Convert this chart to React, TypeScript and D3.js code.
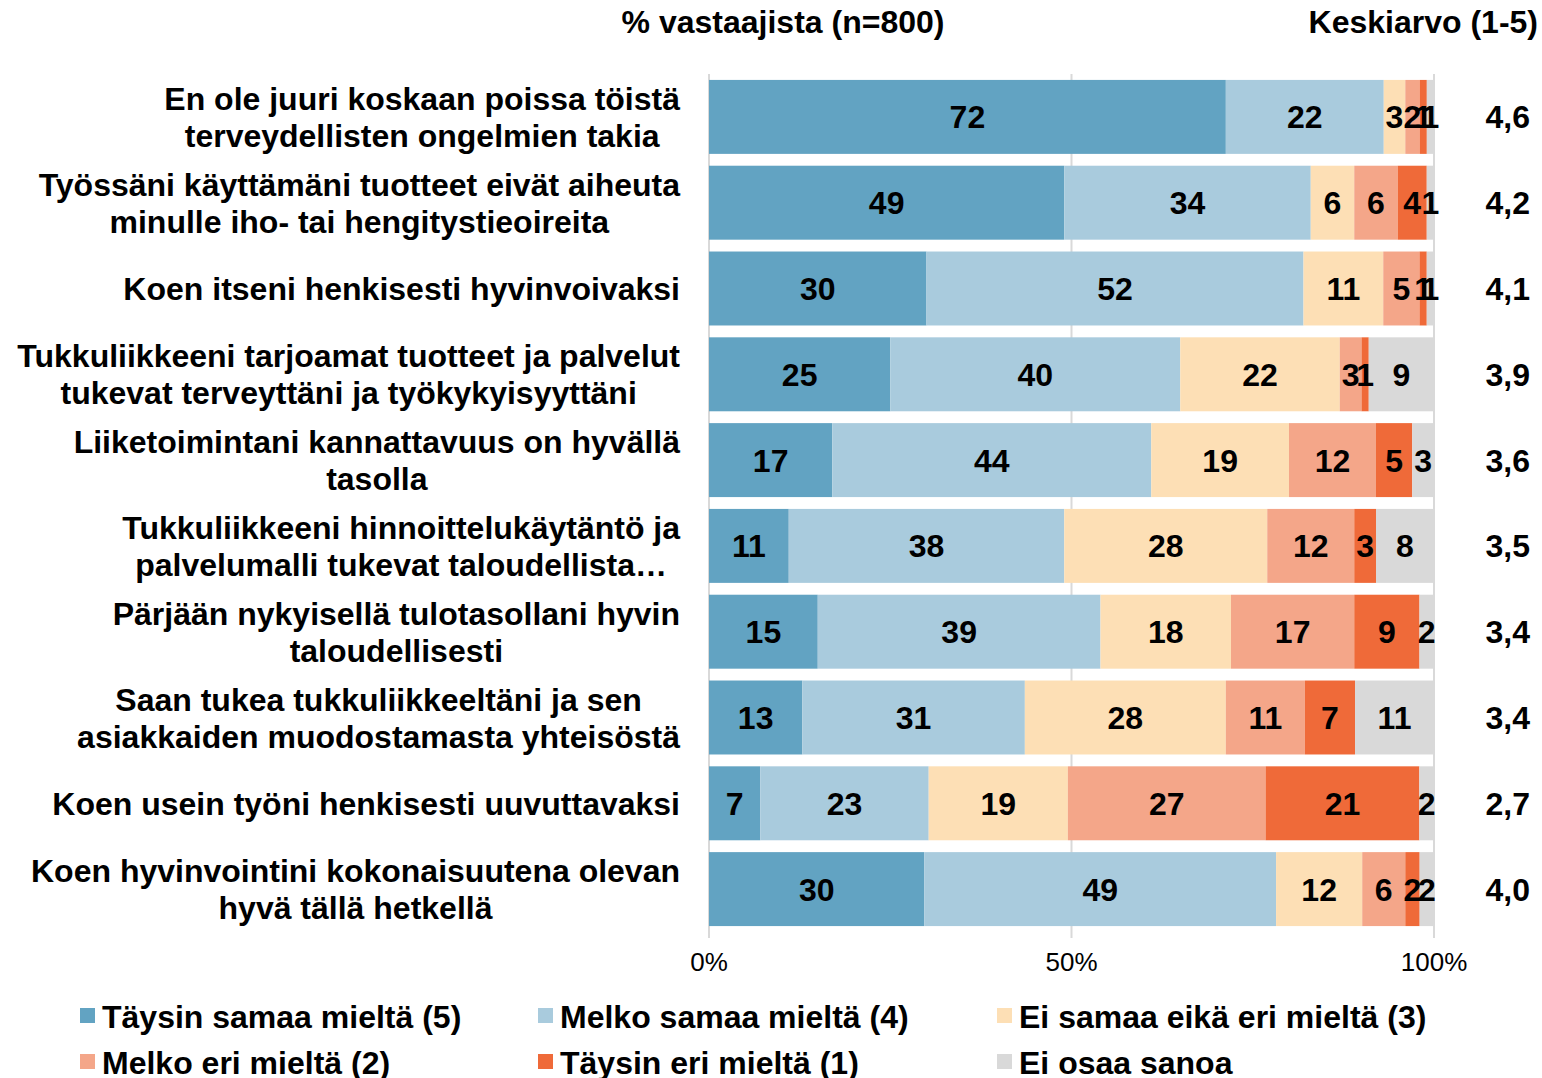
import React from 'react';
import * as d3 from 'd3';

const categories = [
  ['En ole juuri koskaan poissa töistä', 'terveydellisten ongelmien takia'],
  ['Työssäni käyttämäni tuotteet eivät aiheuta', 'minulle iho- tai hengitystieoireita'],
  ['Koen itseni henkisesti hyvinvoivaksi'],
  ['Tukkuliikkeeni tarjoamat tuotteet ja palvelut', 'tukevat terveyttäni ja työkykyisyyttäni'],
  ['Liiketoimintani kannattavuus on hyvällä', 'tasolla'],
  ['Tukkuliikkeeni hinnoittelukäytäntö ja', 'palvelumalli tukevat taloudellista…'],
  ['Pärjään nykyisellä tulotasollani hyvin', 'taloudellisesti'],
  ['Saan tukea tukkuliikkeeltäni ja sen', 'asiakkaiden muodostamasta yhteisöstä'],
  ['Koen usein työni henkisesti uuvuttavaksi'],
  ['Koen hyvinvointini kokonaisuutena olevan', 'hyvä tällä hetkellä'],
];

const seriesNames = [
  'Täysin samaa mieltä (5)',
  'Melko samaa mieltä (4)',
  'Ei samaa eikä eri mieltä (3)',
  'Melko eri mieltä (2)',
  'Täysin eri mieltä (1)',
  'Ei osaa sanoa',
];

const taysinSamaa = [72, 49, 30, 25, 17, 11, 15, 13, 7, 30];
const melkoSamaa = [22, 34, 52, 40, 44, 38, 39, 31, 23, 49];
const eiSamaaEikaEri = [3, 6, 11, 22, 19, 28, 18, 28, 19, 12];
const melkoEri = [2, 6, 5, 3, 12, 12, 17, 11, 27, 6];
const taysinEri = [1, 4, 1, 1, 5, 3, 9, 7, 21, 2];
const eiOsaa = [1, 1, 1, 9, 3, 8, 2, 11, 2, 2];

const means = ['4,6', '4,2', '4,1', '3,9', '3,6', '3,5', '3,4', '3,4', '2,7', '4,0'];
const xTicks = [0, 50, 100];

const colors = ['#62a3c2', '#a9cbdd', '#fddfb5', '#f4a689', '#ef6a39', '#d9d9d9'];

const allSeries = [taysinSamaa, melkoSamaa, eiSamaaEikaEri, melkoEri, taysinEri, eiOsaa];

const FONT = '"Liberation Sans", Arial, sans-serif';

// measure label width so multi-line labels can be centred inside a right-aligned block
let ctx: CanvasRenderingContext2D | null = null;
function textWidth(s: string, size: number) {
  if (!ctx) ctx = document.createElement('canvas').getContext('2d');
  if (!ctx) return s.length * size * 0.55;
  ctx.font = `bold ${size}px ${FONT}`;
  return ctx.measureText(s).width;
}

export default function App() {
  const x = d3.scaleLinear().domain([0, 100]).range([709, 1434]);
  const y = d3
    .scaleBand<number>()
    .domain(d3.range(categories.length))
    .range([74, 932])
    .paddingInner(0.138)
    .paddingOuter(0.069);

  const rows = categories.map((_, i) => {
    const vals = allSeries.map((s) => s[i]);
    const total = d3.sum(vals);
    let acc = 0;
    return vals.map((v, k) => {
      const x0 = (acc / total) * 100;
      acc += v;
      const x1 = (acc / total) * 100;
      return { k, v, x0, x1 };
    });
  });

  const labelRight = 680;

  return (
    <svg
      width={1542}
      height={1078}
      style={{ position: 'absolute', left: 0, top: 0, background: '#fff' }}
      fontFamily={FONT}
    >
      {/* headers */}
      <text x={783} y={33} textAnchor="middle" fontSize={32} fontWeight="bold">
        % vastaajista (n=800)
      </text>
      <text x={1538} y={33} textAnchor="end" fontSize={32} fontWeight="bold">
        Keskiarvo (1-5)
      </text>

      {/* grid */}
      {xTicks.map((t) => (
        <line key={t} x1={x(t)} x2={x(t)} y1={74} y2={938} stroke="#d9d9d9" strokeWidth={2} />
      ))}

      {/* bars */}
      {rows.map((segs, i) => (
        <g key={i}>
          {segs.map((s) => (
            <rect
              key={s.k}
              x={x(s.x0)}
              y={y(i)!}
              width={x(s.x1) - x(s.x0)}
              height={y.bandwidth()}
              fill={colors[s.k]}
            />
          ))}
          {segs.map((s) => (
            <text
              key={'t' + s.k}
              x={(x(s.x0) + x(s.x1)) / 2}
              y={y(i)! + y.bandwidth() / 2}
              dy="0.36em"
              textAnchor="middle"
              fontSize={32}
              fontWeight="bold"
            >
              {s.v}
            </text>
          ))}
        </g>
      ))}

      {/* category labels */}
      {categories.map((lines, i) => {
        const cy = y(i)! + y.bandwidth() / 2;
        const w = d3.max(lines, (l) => textWidth(l, 32))!;
        const cx = labelRight - w / 2;
        return (
          <text key={i} textAnchor="middle" fontSize={32} fontWeight="bold">
            {lines.map((l, j) => (
              <tspan key={j} x={cx} y={cy + (j - (lines.length - 1) / 2) * 37} dy="0.36em">
                {l}
              </tspan>
            ))}
          </text>
        );
      })}

      {/* means */}
      {means.map((m, i) => (
        <text
          key={i}
          x={1530}
          y={y(i)! + y.bandwidth() / 2}
          dy="0.36em"
          textAnchor="end"
          fontSize={32}
          fontWeight="bold"
        >
          {m}
        </text>
      ))}

      {/* x axis labels */}
      {xTicks.map((t) => (
        <text key={t} x={x(t)} y={971} textAnchor="middle" fontSize={26}>
          {t}%
        </text>
      ))}

      {/* legend */}
      {seriesNames.map((n, k) => {
        const col = k % 3;
        const row = Math.floor(k / 3);
        const lx = [80, 538, 997][col];
        const ly = [1016, 1062][row];
        return (
          <g key={n}>
            <rect x={lx} y={ly - 8} width={15} height={15} fill={colors[k]} />
            <text x={lx + 22} y={ly} dy="0.36em" fontSize={32} fontWeight="bold">
              {n}
            </text>
          </g>
        );
      })}
    </svg>
  );
}
